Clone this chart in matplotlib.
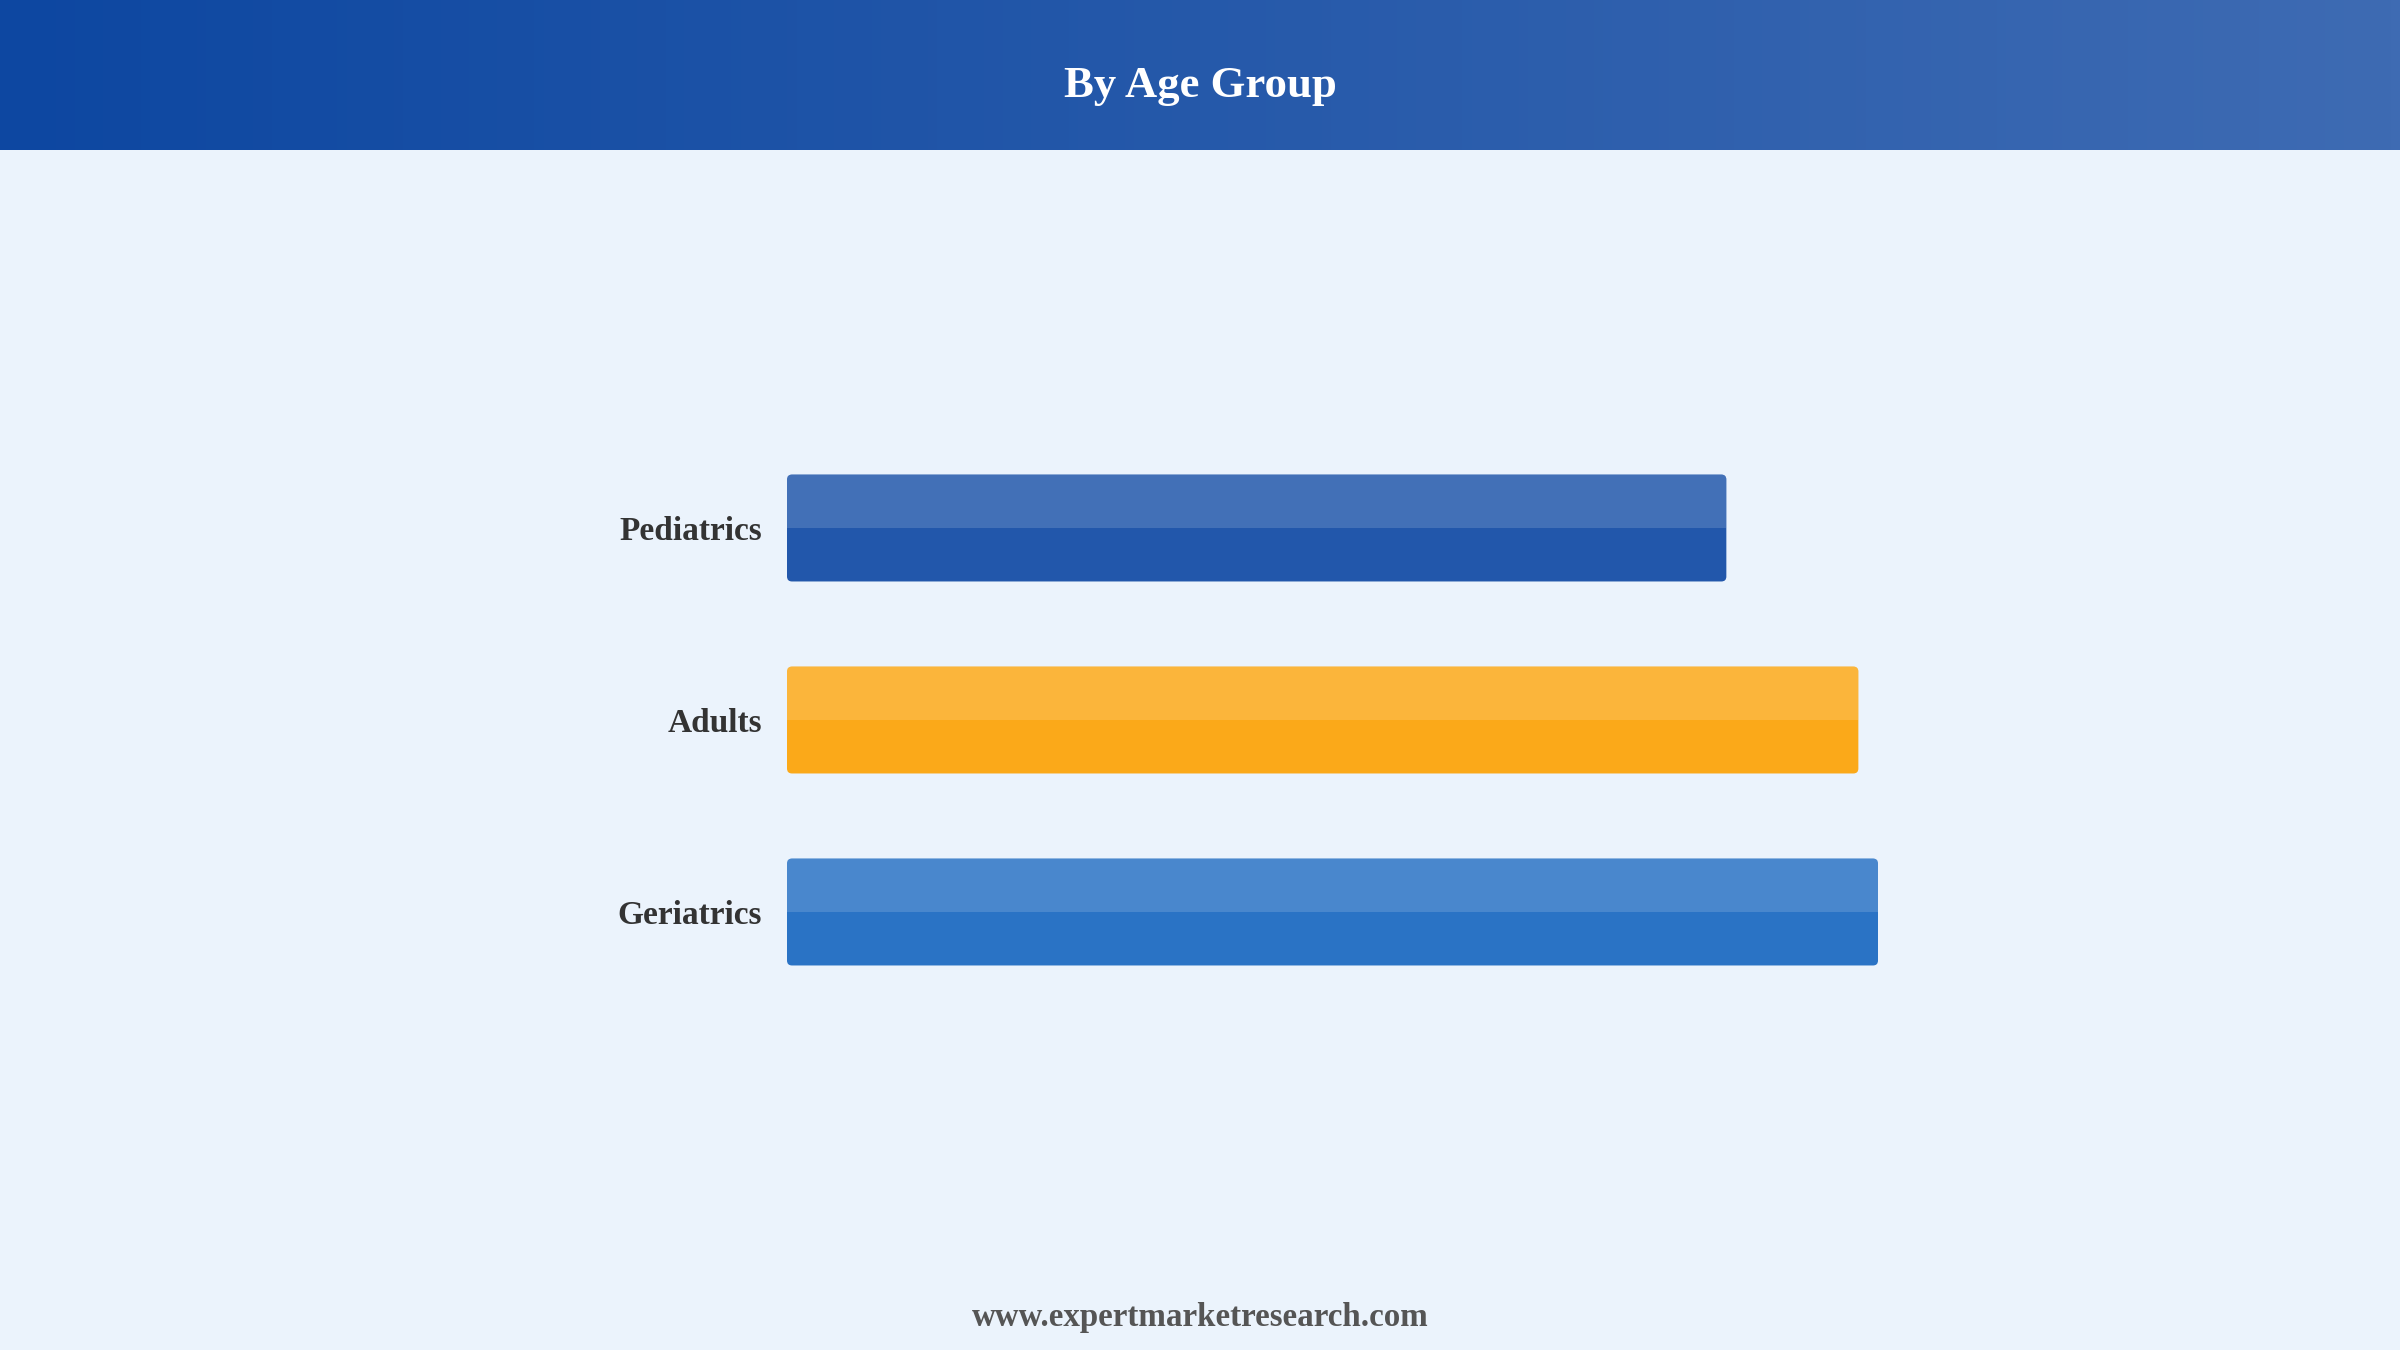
#!/usr/bin/env python3

import matplotlib
matplotlib.use('Agg')
import matplotlib.pyplot as plt
import matplotlib.patches as mpatches
import matplotlib.colors as mcolors
import numpy as np

# data (relative bar lengths)
categories = ['Pediatrics', 'Adults', 'Geriatrics']
values = [86.1, 98.2, 100.0]
colors = ['#2257AB', '#FBA919', '#2A73C5']

title = 'By Age Group'
footer = 'www.expertmarketresearch.com'

W, H = 2400, 1350
DPI = 200
BG = '#EBF3FC'
SERIF = ['Liberation Serif', 'DejaVu Serif']


def main():
  fig = plt.figure(figsize=(W / DPI, H / DPI), dpi=DPI, facecolor=BG)

  # header band with a left-to-right gradient
  hh = 150 / H
  hax = fig.add_axes([0, 1 - hh, 1, hh])
  cmap = mcolors.LinearSegmentedColormap.from_list('hdr', ['#0D47A1', '#3E6BB3'])
  hax.imshow(np.linspace(0, 1, 512)[None, :], aspect='auto', cmap=cmap,
             extent=[0, 1, 0, 1])
  hax.set_axis_off()
  fig.text(0.5, 1 - 97 / H, title, ha='center', va='baseline', color='white',
           fontsize=16.1, fontweight='bold', family=SERIF)

  # bars
  xmax = 120.0
  left_px, right_px = 787, 787 + 1091 * 1.2
  top_px, bot_px = 432, 1008
  ax = fig.add_axes([left_px / W, 1 - bot_px / H,
                     (right_px - left_px) / W, (bot_px - top_px) / H])
  ax.set_facecolor(BG)
  ax.set_xlim(0, xmax)
  ax.set_ylim(2.5, -0.5)
  ax.set_axis_off()

  ypos = np.arange(len(categories))
  bars = ax.barh(ypos, values, height=0.557, color=colors)

  xpp = xmax / (right_px - left_px)
  ypp = 3.0 / (bot_px - top_px)
  rad = 5 * xpp
  for bar, col, lab in zip(bars, colors, categories):
    x, y, w, h = bar.get_x(), bar.get_y(), bar.get_width(), bar.get_height()
    bar.set_visible(False)
    box = mpatches.FancyBboxPatch((x, y), w, h,
                                  boxstyle='round,pad=0,rounding_size=%f' % rad,
                                  mutation_aspect=ypp / xpp,
                                  facecolor=col, edgecolor='none')
    ax.add_patch(box)
    hl = mpatches.Rectangle((x, y), w, h / 2, facecolor='white', alpha=0.15,
                            edgecolor='none')
    ax.add_patch(hl)
    hl.set_clip_path(box)
    ax.text(x - 25 * xpp, y + h / 2 + 12 * ypp, lab, ha='right', va='baseline',
            color='#333333', fontsize=12.0, fontweight='bold', family=SERIF,
            clip_on=False)

  fig.text(0.5, 1 - 1326 / H, footer, ha='center', va='baseline',
           color='#555555', fontsize=11.9, fontweight='bold', family=SERIF)

  fig.savefig('out.png', dpi=DPI, facecolor=BG)


if __name__ == '__main__':
  main()
